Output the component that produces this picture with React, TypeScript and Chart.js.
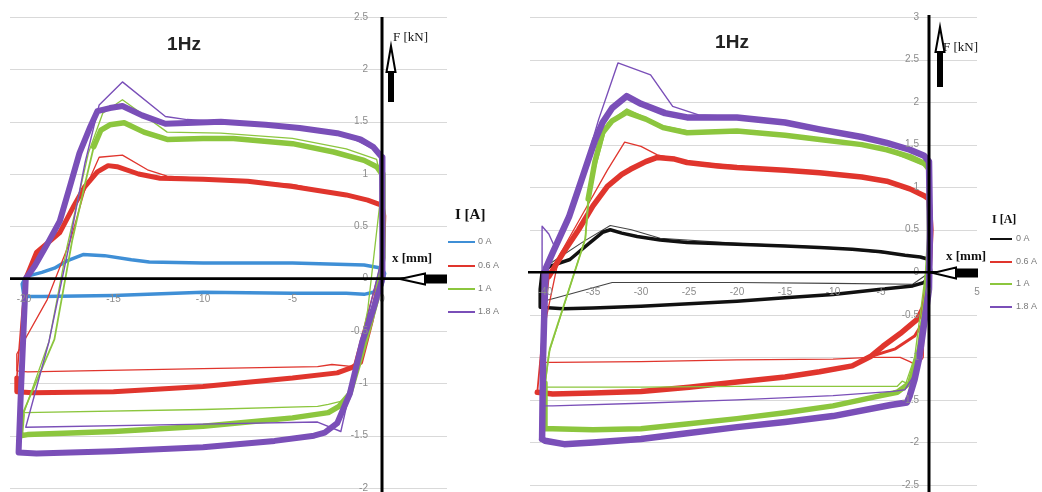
import React, { useEffect, useRef } from "react";
import { Chart, registerables } from "chart.js";

Chart.register(...registerables);

type Pt = [number, number];

// ---------- Legend entries ----------
const currents = ["0 A", "0.6 A", "1 A", "1.8 A"];

// ---------- Axis ticks ----------
const xTicksLeft = [-20, -15, -10, -5, 0];
const yTicksLeft = [-2, -1.5, -1, -0.5, 0, 0.5, 1, 1.5, 2, 2.5];
const xTicksRight = [-40, -35, -30, -25, -20, -15, -10, -5, 0, 5];
const yTicksRight = [-2.5, -2, -1.5, -1, -0.5, 0, 0.5, 1, 1.5, 2, 2.5, 3];

// ---------- Left panel loops: [x mm, F kN] ----------
const left0A: Pt[] = [
  [-20.0, -0.17], [-20.1, -0.05], [-19.9, 0.02], [-19.0, 0.06], [-18.3, 0.1], [-17.6, 0.17],
  [-16.7, 0.23], [-15.5, 0.22], [-14.0, 0.18], [-13.0, 0.16], [-10, 0.15], [-5, 0.15],
  [-1, 0.13], [0, 0.1], [0.15, 0.05], [0, -0.06], [-0.5, -0.13], [-1, -0.15], [-2, -0.14],
  [-5, -0.14], [-10, -0.13], [-15, -0.16], [-19, -0.17], [-20.0, -0.17],
];
const left06A: Pt[] = [
  [-19.9, 0.0], [-19.3, 0.25], [-18.0, 0.44], [-17.2, 0.7], [-16.6, 0.88], [-15.9, 1.02],
  [-15.3, 1.08], [-14.8, 1.07], [-13.6, 1.0], [-12.4, 0.96], [-10, 0.95], [-7.5, 0.93],
  [-5, 0.88], [-2, 0.8], [-0.8, 0.75], [0, 0.7], [0.1, 0.6], [0, 0.1], [-0.6, -0.4],
  [-1.2, -0.8], [-1.7, -0.85], [-2.5, -0.9], [-5, -0.95], [-10, -1.03], [-15, -1.08],
  [-19.5, -1.09], [-20.4, -1.08], [-20.4, -0.95],
];
const left06ARise: Pt[] = [[-20.4, -0.95], [-20.1, -0.3], [-19.9, 0.0]];
const left06AFirst: Pt[] = [
  [-20.4, -0.88], [-20.4, -0.72], [-18.7, -0.2], [-17.4, 0.37], [-16.6, 0.85], [-15.8, 1.16],
  [-14.5, 1.18], [-13.1, 1.04], [-12, 0.98], [-5, 0.9], [0, 0.72], [0.05, 0.2],
  [-1.6, -0.84], [-2.8, -0.82], [-3.6, -0.84], [-10, -0.86], [-19.8, -0.89], [-20.4, -0.88],
];
const left1A: Pt[] = [
  [-16.1, 1.26], [-15.7, 1.42], [-15.2, 1.47], [-14.4, 1.49], [-13.3, 1.4], [-12.0, 1.33],
  [-10, 1.34], [-8.3, 1.34], [-5, 1.29], [-2.7, 1.21], [-1, 1.13], [-0.3, 1.07], [0, 1.0],
  [0.05, 0.2], [-0.3, -0.2], [-1.2, -0.75], [-1.8, -1.1], [-2.4, -1.22], [-3, -1.28],
  [-5, -1.33], [-10, -1.41], [-15, -1.46], [-19.8, -1.49], [-20.2, -1.5], [-20.1, -1.3],
];
const left1ARise: Pt[] = [
  [-20.1, -1.3], [-18.3, -0.58], [-17.3, 0.37], [-16.6, 0.9], [-16.1, 1.26],
];
const left1AFirst: Pt[] = [
  [-20.0, -1.28], [-18.6, -0.6], [-17.6, 0.3], [-16.4, 1.2], [-15.6, 1.58], [-14.5, 1.71],
  [-12, 1.4], [-9, 1.39], [-5, 1.34], [-2, 1.24], [-0.3, 1.14], [0, 0.9], [-0.8, -0.3],
  [-1.8, -1.15], [-3.0, -1.2], [-3.6, -1.22], [-10, -1.25], [-20.0, -1.28],
];
const left18A: Pt[] = [
  [-20.3, -1.66], [-20.2, -1.2], [-20.0, -0.4], [-19.9, 0.0], [-19.4, 0.12], [-18.7, 0.33],
  [-18.0, 0.55], [-17.4, 0.9], [-16.9, 1.2], [-16.3, 1.45], [-15.9, 1.6], [-15.2, 1.63],
  [-14.5, 1.65], [-13.4, 1.56], [-12.1, 1.48], [-10.5, 1.49], [-9.0, 1.5], [-6.5, 1.47],
  [-4.6, 1.44], [-2.5, 1.39], [-1.2, 1.33], [-0.5, 1.26], [0, 1.16], [0.05, 0.6], [0, 0],
  [-0.5, -0.3], [-1.1, -0.6], [-1.8, -1.1], [-2.5, -1.38], [-3.2, -1.47], [-3.8, -1.5],
  [-6, -1.55], [-10, -1.61], [-15, -1.65], [-19.3, -1.67], [-20.3, -1.66],
];
const left18AFirst: Pt[] = [
  [-19.9, -1.42], [-18.6, -0.6], [-17.5, 0.3], [-16.6, 1.1], [-15.8, 1.66], [-14.5, 1.88],
  [-12.1, 1.55], [-10.9, 1.52], [-6, 1.47], [-2, 1.37], [0, 1.2], [0, 0.2], [-1.5, -0.85],
  [-2.3, -1.46], [-3.6, -1.37], [-10, -1.39], [-19.9, -1.42],
];

// ---------- Right panel loops: [x mm, F kN] ----------
const right0A: Pt[] = [
  [-40.5, -0.41], [-40.5, -0.2], [-40.3, 0.0], [-39.5, 0.07], [-37.4, 0.15], [-35.5, 0.33],
  [-34, 0.47], [-33.2, 0.5], [-32, 0.46], [-30.4, 0.42], [-28, 0.38], [-25.2, 0.35],
  [-20, 0.33], [-15, 0.31], [-11.4, 0.29], [-8, 0.27], [-5, 0.24], [-2.5, 0.2], [-0.9, 0.18],
  [0, 0.15], [0.2, 0.0], [-0.5, -0.12], [-1.7, -0.16], [-5, -0.2], [-10, -0.26],
  [-15, -0.3], [-20, -0.34], [-25, -0.37], [-30, -0.4], [-35, -0.42], [-38.1, -0.43],
  [-40.5, -0.41],
];
const right0AFirst: Pt[] = [
  [-40.5, -0.35], [-39.5, 0.1], [-36, 0.36], [-33.2, 0.55], [-31, 0.5], [-28, 0.4],
  [-20, 0.34], [-10, 0.29], [0, 0.17], [0.1, 0.0], [-1.7, -0.14], [-10, -0.13],
  [-20, -0.12], [-33, -0.12], [-38.8, -0.3], [-40.5, -0.35],
];
const right06A: Pt[] = [
  [-39.6, -0.05], [-38.8, 0.1], [-38.1, 0.23], [-36.5, 0.5], [-35, 0.78], [-33.5, 1.01],
  [-32, 1.15], [-31.1, 1.21], [-29.5, 1.3], [-28.3, 1.35], [-26.5, 1.33], [-25.2, 1.29],
  [-22, 1.25], [-20, 1.23], [-15, 1.2], [-11.4, 1.17], [-7, 1.12], [-4.4, 1.07], [-2, 0.98],
  [-0.5, 0.9], [0, 0.86], [0.2, 0.5], [0, 0.0], [-0.5, -0.4], [-1.2, -0.55], [-3.0, -0.72],
  [-4.8, -0.87], [-6.1, -0.99], [-8, -1.1], [-11.4, -1.17], [-15, -1.23], [-20, -1.29],
  [-25, -1.35], [-30, -1.4], [-35, -1.42], [-39.2, -1.43], [-40.8, -1.41],
];
const right06ARise: Pt[] = [[-40.8, -1.41], [-40.3, -0.8], [-39.6, -0.05]];
const right06AMid: Pt[] = [
  [-6.1, -0.99], [-3.5, -0.9], [-1.5, -0.75], [-0.4, -0.55], [0.1, 0.1], [0, 0.86],
];
const right06AFirst: Pt[] = [
  [-40.5, -1.06], [-39.8, -0.5], [-38.5, 0.2], [-36, 0.7], [-33.5, 1.2], [-31.7, 1.53],
  [-30, 1.48], [-28.3, 1.38], [-25, 1.3], [-15, 1.2], [-5, 1.08], [0, 0.88], [0.1, 0.2],
  [-0.5, -0.45], [-0.6, -1.0], [-1.2, -1.1], [-2.0, -1.05], [-3.0, -1.0], [-6.1, -1.0],
  [-10, -1.02], [-20, -1.03], [-30, -1.05], [-39.2, -1.06], [-40.5, -1.06],
];
const right1A: Pt[] = [
  [-35.5, 0.86], [-34.8, 1.3], [-34, 1.64], [-33, 1.78], [-31.5, 1.88], [-29.5, 1.8],
  [-27.7, 1.7], [-25.2, 1.64], [-20, 1.66], [-15, 1.61], [-11.4, 1.56], [-7, 1.5],
  [-4.4, 1.44], [-2, 1.36], [-0.5, 1.28], [0, 1.21], [0.05, 0.4], [-0.3, -0.3], [-1, -0.9],
  [-2, -1.3], [-3.3, -1.41], [-5, -1.45], [-10, -1.57], [-15, -1.65], [-20, -1.72],
  [-25, -1.78], [-30, -1.84], [-35, -1.85], [-39.2, -1.84], [-40.0, -1.84], [-40, -1.3],
];
const right1ARise: Pt[] = [[-40, -1.3], [-39.5, -0.9], [-35.8, 0.39], [-35.5, 0.86]];
const right1AFirst: Pt[] = [
  [-40, -1.35], [-39.6, -0.95], [-35.8, 0.4], [-35.3, 1.0], [-33.5, 1.75], [-31.5, 1.92],
  [-27.7, 1.72], [-25, 1.66], [-15, 1.62], [-5, 1.46], [0, 1.23], [0, 0.3], [-1.5, -1.0],
  [-2.4, -1.3], [-2.8, -1.28], [-3.3, -1.34], [-10, -1.34], [-20, -1.34], [-30, -1.35],
  [-40, -1.35],
];
const right18A: Pt[] = [
  [-40.3, -1.96], [-40.2, -1.0], [-40.0, -0.2], [-39.9, 0.05], [-39.2, 0.23], [-37.5, 0.65],
  [-36, 1.15], [-34.8, 1.55], [-34, 1.76], [-33, 1.93], [-31.5, 2.07], [-30, 1.98],
  [-27.5, 1.87], [-25.2, 1.82], [-22, 1.82], [-20, 1.82], [-15, 1.76], [-11.4, 1.68],
  [-7, 1.59], [-4.4, 1.52], [-2, 1.44], [-0.5, 1.37], [0, 1.3], [0.1, 0.5], [0, -0.2],
  [-0.5, -0.6], [-1.0, -1.0], [-1.5, -1.26], [-2.0, -1.45], [-2.3, -1.53], [-4, -1.56],
  [-10, -1.69], [-15, -1.76], [-20, -1.82], [-25, -1.89], [-30, -1.96], [-35, -2.0],
  [-38, -2.02], [-40, -1.98], [-40.3, -1.96],
];
const right18AFirst: Pt[] = [
  [-40.3, -1.57], [-40.3, 0.54], [-39.6, 0.45], [-39.0, 0.3], [-37, 0.8], [-34.4, 1.8],
  [-32.4, 2.46], [-29, 2.32], [-26.7, 1.95], [-24, 1.85], [-20, 1.83], [-10, 1.66],
  [-3, 1.48], [0, 1.32], [0, 0], [-1.5, -1.2], [-2.5, -1.38], [-3.75, -1.4], [-10, -1.45],
  [-20, -1.5], [-30, -1.54], [-39.2, -1.57], [-40.3, -1.57],
];

// ---------- Colours ----------
const BLUE = "#3f8fd6";
const RED = "#e0352d";
const GREEN = "#8cc63e";
const PURPLE = "#7a4fb8";
const BLACK = "#111111";

type Loop = { pts: Pt[]; color: string; width: number; order: number };

type PanelCfg = {
  left: number;
  width: number;
  xMin: number;
  xMax: number;
  yMin: number;
  yMax: number;
  pad: { left: number; right: number; top: number; bottom: number };
  xTicks: number[];
  yTicks: number[];
  loops: Loop[];
  legendColors: string[];
  title: { x: number; y: number };
  yLabelGap: number;
  xLabelDy: number;
  fLabel: { x: number; y: number };
  vArrow: { x: number; tip: number; base: number; end: number };
  hArrow: { y: number; tip: number; base: number; end: number };
  xLabel: { x: number; y: number };
  iLabel: { x: number; y: number; size: number };
  legend: { x0: number; x1: number; tx: number; ys: number[] };
  axisExtent: { hLeft: number; hRight: number; vTop: number; vBottom: number };
};

const leftCfg: PanelCfg = {
  left: 0,
  width: 520,
  xMin: -20.78,
  xMax: 3.63,
  yMin: -2,
  yMax: 2.5,
  pad: { left: 10, right: 73, top: 17, bottom: 4 },
  xTicks: xTicksLeft,
  yTicks: yTicksLeft,
  loops: [
    { pts: left0A, color: BLUE, width: 3.5, order: 9 },
    { pts: left06AFirst, color: RED, width: 1.3, order: 8 },
    { pts: left06ARise, color: RED, width: 1.6, order: 8 },
    { pts: left06A, color: RED, width: 5, order: 7 },
    { pts: left1AFirst, color: GREEN, width: 1.3, order: 6 },
    { pts: left1ARise, color: GREEN, width: 1.8, order: 6 },
    { pts: left1A, color: GREEN, width: 5.5, order: 5 },
    { pts: left18AFirst, color: PURPLE, width: 1.4, order: 3 },
    { pts: left18A, color: PURPLE, width: 6, order: 2 },
  ],
  legendColors: [BLUE, RED, GREEN, PURPLE],
  title: { x: 184, y: 45 },
  yLabelGap: 14,
  xLabelDy: 21,
  fLabel: { x: 393, y: 38 },
  vArrow: { x: 391, tip: 46, base: 72, end: 102 },
  hArrow: { y: 279, tip: 400, base: 425, end: 447 },
  xLabel: { x: 392, y: 259 },
  iLabel: { x: 455, y: 215, size: 15 },
  legend: { x0: 448, x1: 475, tx: 478, ys: [242, 266, 289, 312] },
  axisExtent: { hLeft: 10, hRight: 447, vTop: 17, vBottom: 492 },
};

const rightCfg: PanelCfg = {
  left: 520,
  width: 522,
  xMin: -41.56,
  xMax: 5,
  yMin: -2.5,
  yMax: 3,
  pad: { left: 10, right: 65, top: 17, bottom: 7 },
  xTicks: xTicksRight,
  yTicks: yTicksRight,
  loops: [
    { pts: right0AFirst, color: "#444444", width: 1.1, order: 11 },
    { pts: right0A, color: BLACK, width: 3.5, order: 10 },
    { pts: right06AFirst, color: RED, width: 1.3, order: 9 },
    { pts: right06ARise, color: RED, width: 1.8, order: 9 },
    { pts: right06AMid, color: RED, width: 3, order: 8 },
    { pts: right06A, color: RED, width: 5.5, order: 7 },
    { pts: right1AFirst, color: GREEN, width: 1.3, order: 6 },
    { pts: right1ARise, color: GREEN, width: 1.8, order: 6 },
    { pts: right1A, color: GREEN, width: 5.5, order: 5 },
    { pts: right18AFirst, color: PURPLE, width: 1.4, order: 3 },
    { pts: right18A, color: PURPLE, width: 6.5, order: 2 },
  ],
  legendColors: [BLACK, RED, GREEN, PURPLE],
  title: { x: 212, y: 43 },
  yLabelGap: 10,
  xLabelDy: 20,
  fLabel: { x: 423, y: 48 },
  vArrow: { x: 420, tip: 27, base: 52, end: 87 },
  hArrow: { y: 273, tip: 413, base: 436, end: 458 },
  xLabel: { x: 426, y: 257 },
  iLabel: { x: 472, y: 220, size: 12 },
  legend: { x0: 470, x1: 492, tx: 496, ys: [239, 262, 284, 307] },
  axisExtent: { hLeft: 8, hRight: 457, vTop: 15, vBottom: 492 },
};

function fmt(v: number): string {
  return String(v);
}

function makeOverlay(cfg: PanelCfg) {
  return {
    id: "panelOverlay",
    beforeDatasetsDraw(chart: any) {
      const { ctx, chartArea, scales } = chart;
      const y = scales.y;
      ctx.save();
      ctx.strokeStyle = "#d9d9d9";
      ctx.lineWidth = 1;
      for (const v of cfg.yTicks) {
        const py = Math.round(y.getPixelForValue(v)) + 0.5;
        ctx.beginPath();
        ctx.moveTo(chartArea.left, py);
        ctx.lineTo(chartArea.right, py);
        ctx.stroke();
      }
      ctx.restore();
    },
    afterDatasetsDraw(chart: any) {
      const { ctx, scales } = chart;
      const x = scales.x;
      const y = scales.y;
      const x0 = x.getPixelForValue(0);
      const y0 = y.getPixelForValue(0);
      ctx.save();

      // tick labels
      ctx.fillStyle = "#8c8c8c";
      ctx.font = "10px 'Liberation Sans', Arial, sans-serif";
      ctx.textAlign = "right";
      ctx.textBaseline = "middle";
      for (const v of cfg.yTicks) {
        ctx.fillText(fmt(v), x0 - cfg.yLabelGap, y.getPixelForValue(v));
      }
      ctx.textAlign = "center";
      for (const v of cfg.xTicks) {
        ctx.fillText(fmt(v), x.getPixelForValue(v), y0 + cfg.xLabelDy);
      }

      // axes through the origin
      ctx.strokeStyle = "#000";
      ctx.lineWidth = 2.6;
      ctx.beginPath();
      ctx.moveTo(cfg.axisExtent.hLeft, y0);
      ctx.lineTo(cfg.axisExtent.hRight, y0);
      ctx.stroke();
      ctx.lineWidth = 3;
      ctx.beginPath();
      ctx.moveTo(x0, cfg.axisExtent.vTop);
      ctx.lineTo(x0, cfg.axisExtent.vBottom);
      ctx.stroke();

      // force arrow (up)
      const va = cfg.vArrow;
      ctx.fillStyle = "#000";
      ctx.fillRect(va.x - 3, va.base, 6, va.end - va.base);
      ctx.beginPath();
      ctx.moveTo(va.x, va.tip);
      ctx.lineTo(va.x - 4.5, va.base);
      ctx.lineTo(va.x + 4.5, va.base);
      ctx.closePath();
      ctx.fillStyle = "#fff";
      ctx.fill();
      ctx.lineWidth = 2;
      ctx.stroke();

      // displacement arrow (left)
      const ha = cfg.hArrow;
      ctx.fillStyle = "#000";
      ctx.fillRect(ha.base, ha.y - 4.5, ha.end - ha.base, 9);
      ctx.beginPath();
      ctx.moveTo(ha.tip, ha.y);
      ctx.lineTo(ha.base, ha.y - 5.5);
      ctx.lineTo(ha.base, ha.y + 5.5);
      ctx.closePath();
      ctx.fillStyle = "#fff";
      ctx.fill();
      ctx.lineWidth = 2;
      ctx.stroke();

      // axis names
      ctx.fillStyle = "#111";
      ctx.textAlign = "left";
      ctx.textBaseline = "middle";
      ctx.font = "13px 'Liberation Serif', 'DejaVu Serif', serif";
      ctx.fillText("F [kN]", cfg.fLabel.x, cfg.fLabel.y);
      ctx.font = "bold 13px 'Liberation Serif', 'DejaVu Serif', serif";
      ctx.fillText("x [mm]", cfg.xLabel.x, cfg.xLabel.y);
      ctx.font = `bold ${cfg.iLabel.size}px 'Liberation Serif', 'DejaVu Serif', serif`;
      ctx.fillText("I [A]", cfg.iLabel.x, cfg.iLabel.y);

      // legend
      const lg = cfg.legend;
      ctx.font = "9px 'Liberation Sans', Arial, sans-serif";
      currents.forEach((name, i) => {
        const ly = lg.ys[i];
        ctx.strokeStyle = cfg.legendColors[i];
        ctx.lineWidth = 2;
        ctx.beginPath();
        ctx.moveTo(lg.x0, ly);
        ctx.lineTo(lg.x1, ly);
        ctx.stroke();
        ctx.fillStyle = "#7a7a7a";
        ctx.fillText(name, lg.tx, ly);
      });

      // title
      ctx.fillStyle = "#222";
      ctx.textAlign = "center";
      ctx.font = "bold 19px 'Liberation Sans', Arial, sans-serif";
      ctx.fillText("1Hz", cfg.title.x, cfg.title.y);

      ctx.restore();
    },
  };
}

function Panel({ cfg }: { cfg: PanelCfg }) {
  const ref = useRef<HTMLCanvasElement>(null);
  useEffect(() => {
    const canvas = ref.current;
    if (!canvas) return;
    const chart = new Chart(canvas, {
      type: "scatter",
      data: {
        datasets: cfg.loops.map((l, i) => ({
          label: `loop${i}`,
          data: l.pts.map(([px, py]) => ({ x: px, y: py })),
          borderColor: l.color,
          backgroundColor: l.color,
          borderWidth: l.width,
          pointRadius: 0,
          showLine: true,
          fill: false,
          tension: 0,
          order: l.order,
          borderJoinStyle: "round" as const,
          borderCapStyle: "round" as const,
        })),
      },
      options: {
        animation: false,
        responsive: false,
        devicePixelRatio: 1,
        layout: { padding: cfg.pad },
        plugins: { legend: { display: false }, tooltip: { enabled: false }, title: { display: false } },
        scales: {
          x: { type: "linear", min: cfg.xMin, max: cfg.xMax, display: false },
          y: { type: "linear", min: cfg.yMin, max: cfg.yMax, display: false },
        },
      },
      plugins: [makeOverlay(cfg)],
    });
    return () => chart.destroy();
  }, [cfg]);
  return (
    <canvas
      ref={ref}
      width={cfg.width}
      height={492}
      style={{ position: "absolute", left: cfg.left, top: 0, width: cfg.width, height: 492 }}
    />
  );
}

export default function App() {
  return (
    <div style={{ position: "absolute", left: 0, top: 0, width: 1042, height: 492, background: "#fff", overflow: "hidden" }}>
      <Panel cfg={leftCfg} />
      <Panel cfg={rightCfg} />
    </div>
  );
}
